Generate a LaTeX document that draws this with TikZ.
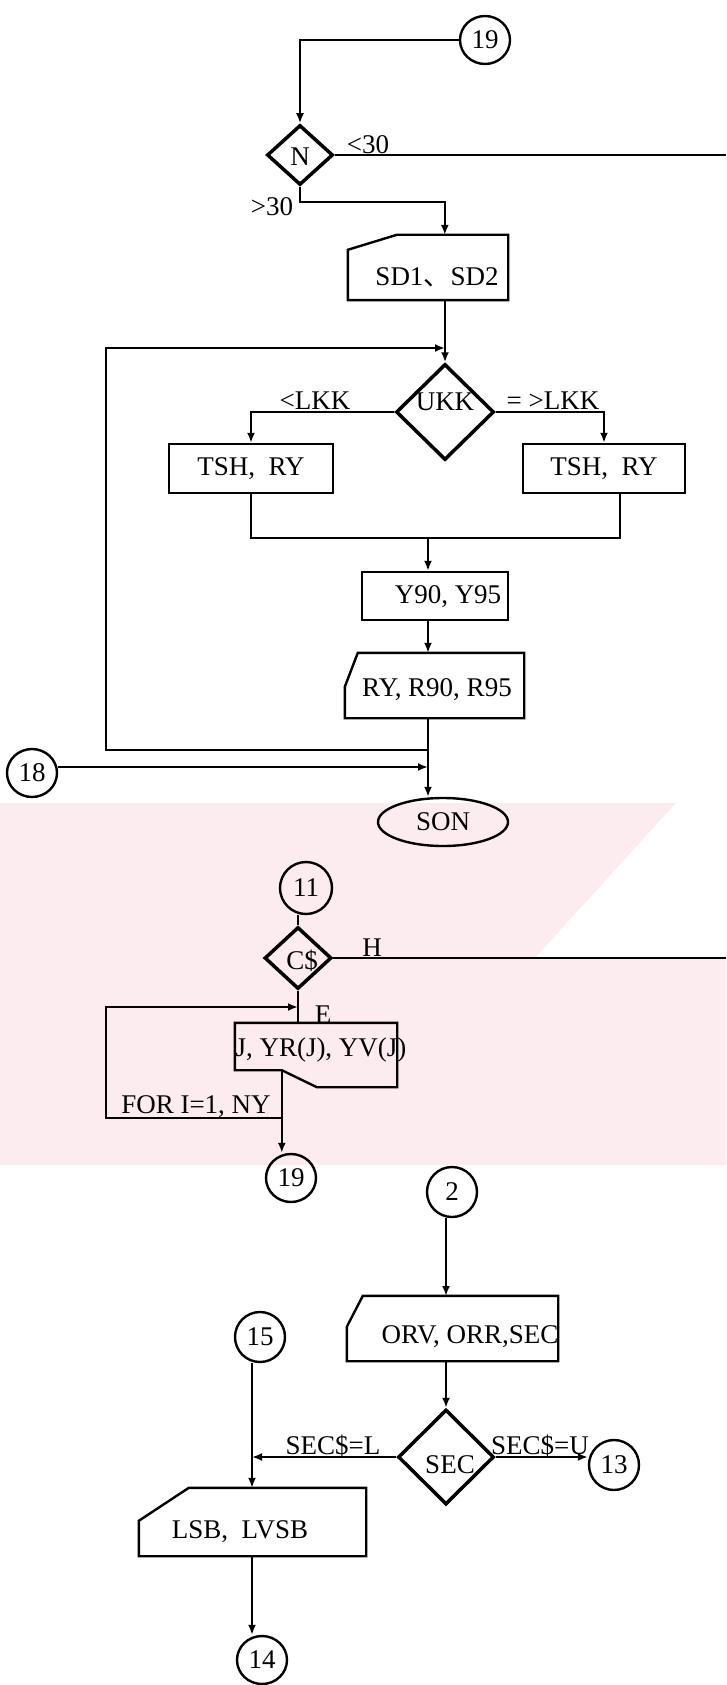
\documentclass[tikz,border=0pt]{standalone}
\usepackage{fontspec}
\setmainfont{Liberation Serif}
\newfontfamily\cjkf{Noto Sans CJK SC}
\usetikzlibrary{shapes.geometric,arrows.meta,calc}
\definecolor{wmpink}{RGB}{252,236,240}
\begin{document}
\begin{tikzpicture}[x=1pt,y=-1pt,
  every node/.style={font=\fontsize{27}{32}\selectfont, inner sep=0pt},
  ln/.style={line width=2.4pt, line join=miter},
  arr/.style={ln, -{Latex[length=10pt,width=8pt]}},
  conn/.style={ellipse, draw, line width=2.4pt, minimum width=50pt, minimum height=48pt},
  dec/.style={diamond, draw, line width=3.5pt},
  hbox/.style={rectangle, draw=none},
  pbox/.style={rectangle, draw, line width=2.4pt}
]
\fill[white] (0,0) rectangle (726,1685);
\useasboundingbox (0,0) rectangle (726,1685);

% ---------- faint background watermark ----------
\fill[wmpink] (0,803) rectangle (726,1165);
\fill[white] (536,957) -- (676,803) -- (726,803) -- (726,957) -- cycle;

% ---------- top section ----------
\node[conn] (c19a) at (485,40) {19};
\node[dec, minimum width=66pt, minimum height=60pt] (dN) at (300,155) {};
\node (tN) at (300,157) {N};
\coordinate (eN) at (726,155);
\draw[ln] (dN.east) -- (eN);
\node (l30a) at (368,145) {<30};
\node (l30b) at (272,207) {>30};
\draw[arr] (c19a.west) -| (dN.north);

\node[hbox, minimum width=160pt, minimum height=65pt] (sd) at (428,267.5) {};
\draw[ln] (sd.south west) -- ($(sd.north west)+(0,15)$) -- ($(sd.north west)+(49,0)$) -- (sd.north east) -- (sd.south east) -- cycle;
\node (tsd) at (437,277) {SD1{\cjkf 、}SD2};
\coordinate (kN) at (300,202);
\draw[arr] (dN.south) -- (kN) -| ($(sd.north west)+(97,0)$);

\coordinate (jU) at (445,348);
\node[dec, minimum width=98pt, minimum height=96pt] (dU) at (445,412) {};
\node (tU) at (445,402) {UKK};
\draw[ln] (sd.south -| jU) -- (jU);
\draw[arr] (jU) -- (dU.north);

\node[pbox, minimum width=164pt, minimum height=49pt] (tshL) at (251,468.5) {TSH,\ \ RY};
\node[pbox, minimum width=162pt, minimum height=49pt] (tshR) at (604,468.5) {TSH,\ \ RY};
\draw[arr] (dU.west) -| (tshL.north);
\draw[arr] (dU.east) -| (tshR.north);
\node (lL) at (315,401) {<LKK};
\node (lR) at (553,401) {= >LKK};

\coordinate (mL) at (251,538);
\coordinate (mR) at (620,538);
\coordinate (mC) at (428,538);
\draw[ln] (tshL.south) -- (mL) -- (mR) -- (tshR.south -| mR);

\node[pbox, minimum width=146pt, minimum height=48pt] (y90) at (435,596) {};
\node (ty90) at (448,597) {Y90, Y95};
\draw[arr] (mC) -- (mC |- y90.north);

\node[hbox, minimum width=179pt, minimum height=65pt] (ry) at (434.5,685.5) {};
\draw[ln] (ry.south west) -- ($(ry.north west)+(0,34)$) -- ($(ry.north west)+(13,0)$) -- (ry.north east) -- (ry.south east) -- cycle;
\node (try) at (437,690) {RY, R90, R95};
\draw[arr] (y90.south -| mC) -- (ry.north -| mC);

\node[conn, minimum width=130pt, minimum height=48pt] (son) at (443,822) {SON};
\draw[arr] (ry.south -| mC) -- (son.north -| mC);

\coordinate (jR) at (428,750);
\coordinate (lpBL) at (106,750);
\coordinate (lpTL) at (106,348);
\draw[arr] (jR) -- (lpBL) -- (lpTL) -- (jU);

\node[conn] (c18) at (32,773) {18};
\coordinate (j18) at (428,767);
\draw[arr] (c18.east |- j18) -- (j18);

% ---------- middle section ----------
\node[conn, minimum width=52pt, minimum height=52pt] (c11) at (306,888) {11};
\node[dec, minimum width=67pt, minimum height=62pt] (dC) at (298,958) {};
\node (tC) at (302,961) {C\$};
\draw[ln] (c11.south -| dC.north) -- (dC.north);
\coordinate (eC) at (726,958);
\draw[ln] (dC.east) -- (eC);
\node (lH) at (372,948) {H};

\node[hbox, minimum width=162pt, minimum height=64pt] (jb) at (316,1055) {};
\draw[ln] (jb.north west) -- (jb.north east) -- (jb.south east) -- ($(jb.south west)+(82,0)$) -- ($(jb.south west)+(47,-17)$) -- ($(jb.south west)+(0,-17)$) -- cycle;
\node (tjb) at (321,1050) {J, YR(J), YV(J)};
\draw[ln] (dC.south) -- (jb.north -| dC.south);
\node (lE) at (323,1015) {E};

\coordinate (jC) at (298,1007);
\coordinate (lb) at (282,1118);
\coordinate (lbl) at (106,1118);
\coordinate (ltl) at (106,1007);
\draw[arr] (lb) -- (lbl) -- (ltl) -- (jC);
\node (lfor) at (196,1107) {FOR I=1, NY};

\node[conn] (c19b) at (291,1178) {19};
\coordinate (jbo) at ($(jb.south west)+(47,-17)$);
\draw[arr] (jbo) -- (c19b.north -| jbo);

% ---------- bottom section ----------
\node[conn, minimum height=50pt] (c2) at (452,1192) {2};
\node[hbox, minimum width=211pt, minimum height=65pt] (orv) at (452.5,1328.5) {};
\node (torv) at (470,1337) {ORV, ORR,SEC};
\draw[ln] (orv.south west) -- ($(orv.north west)+(0,31)$) -- ($(orv.north west)+(16,0)$) -- (orv.north east) -- (orv.south east) -- cycle;
\coordinate (x3) at (446,1296);
\draw[arr] (c2.south -| x3) -- (x3);

\node[dec, minimum width=96pt, minimum height=95pt] (dS) at (446,1457) {};
\node (tS) at (450,1465) {SEC};
\draw[arr] (orv.south -| x3) -- (dS.north);

\node[conn, minimum height=50pt] (c13) at (614,1465) {13};
\draw[arr] (dS.east) -- (dS.east -| c13.west);
\node (lSU) at (540,1446) {SEC\$=U};
\node (lSL) at (333,1446) {SEC\$=L};
\coordinate (jL) at (252,1457);
\draw[arr] (dS.west) -- (jL);

\node[conn, minimum height=50pt] (c15) at (260,1337) {15};
\node[hbox, minimum width=227pt, minimum height=68pt] (lsb) at (252.5,1522) {};
\draw[ln] (lsb.south west) -- ($(lsb.north west)+(0,33)$) -- ($(lsb.north west)+(50,0)$) -- (lsb.north east) -- (lsb.south east) -- cycle;
\node (tlsb) at (240,1532) {LSB,\ \ LVSB};
\draw[arr] (c15.south -| jL) -- (lsb.north -| jL);

\node[conn] (c14) at (262,1660) {14};
\draw[arr] (lsb.south -| jL) -- (c14.north -| jL);
\end{tikzpicture}
\end{document}
